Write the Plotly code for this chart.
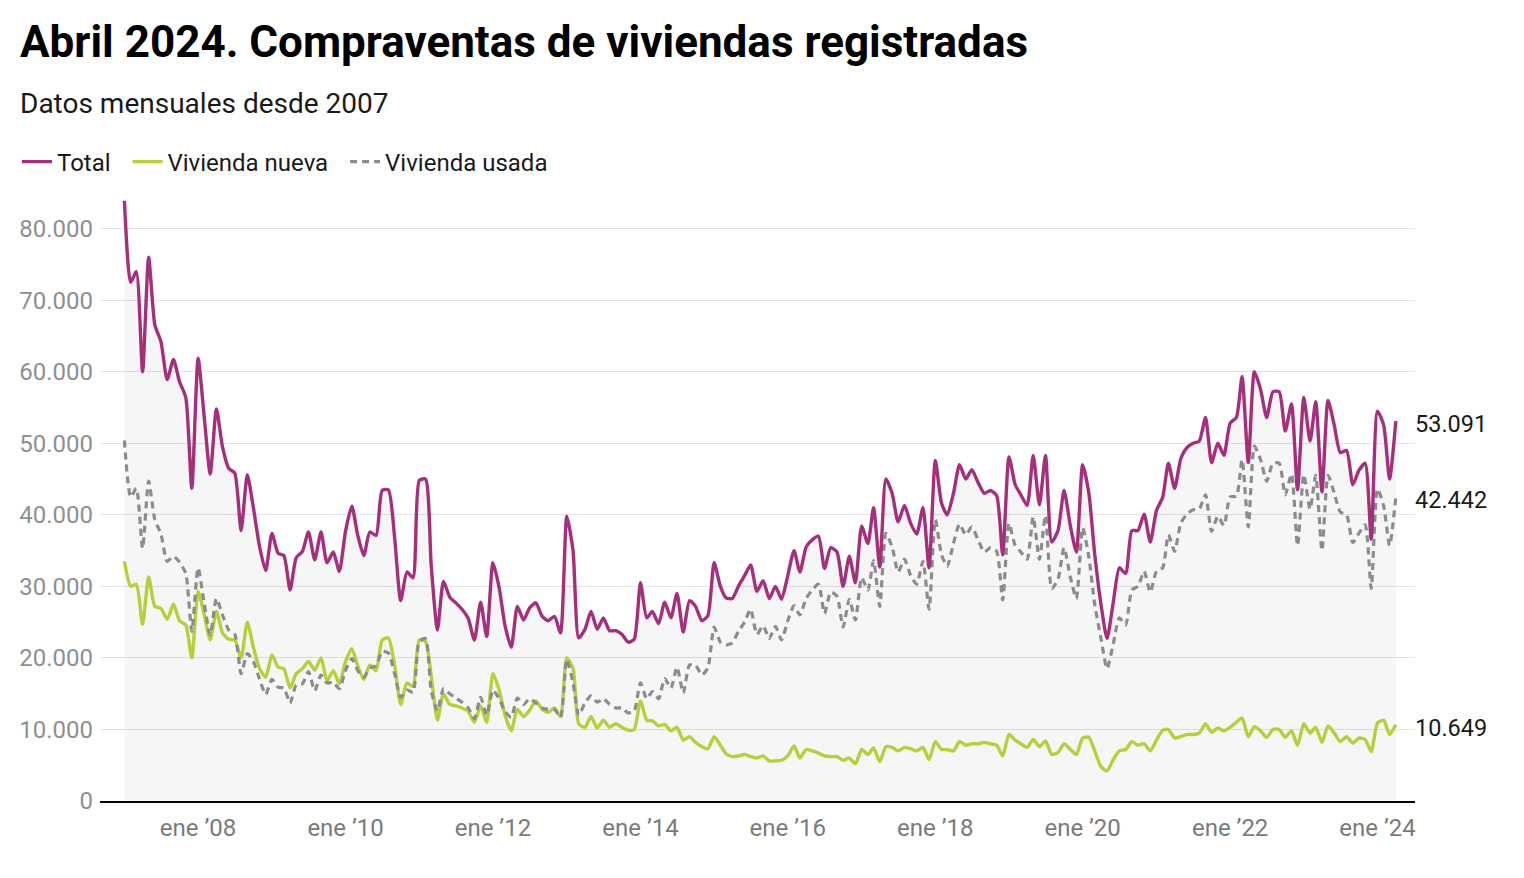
import pandas as pd
import plotly.graph_objects as go

# ---------------- data (monthly, Jan 2007 - Apr 2024) ----------------
total = [
    83900, 72500, 74000, 60000, 76000, 66500, 64200, 58900, 61700, 58600, 56400, 43700,  # 2007
    61900, 53500, 45700, 54800, 49500, 46500, 45800, 37800, 45600, 41000, 35500, 32200,  # 2008
    37400, 34600, 34300, 29500, 34000, 34900, 37600, 33700, 37600, 33300, 34800, 32100,  # 2009
    37800, 41200, 37300, 34300, 37600, 37100, 43400, 43500, 36800, 28000, 32000, 31200,  # 2010
    44800, 45000, 33000, 23900, 30700, 28500, 27700, 26800, 25500, 22500, 27800, 23000,  # 2011
    33300, 29800, 24500, 21500, 27200, 25300, 27000, 27700, 25800, 25200, 25800, 23500,  # 2012
    39800, 35000, 22800, 24000, 26500, 24000, 25600, 23800, 23800, 23300, 22200, 22600,  # 2013
    30500, 25600, 26500, 24800, 27800, 25600, 29000, 23600, 28000, 27200, 25200, 25900,  # 2014
    33300, 30000, 28400, 28300, 30000, 31500, 33000, 29300, 30800, 28300, 30000, 28200,  # 2015
    31500, 35000, 32000, 35500, 36500, 37000, 32500, 35400, 34800, 30000, 34200, 30500,  # 2016
    38400, 36000, 41000, 32700, 45000, 43000, 39000, 41300, 38800, 37300, 41000, 32600,  # 2017
    47600, 41600, 40000, 43000, 47000, 45000, 46300, 44500, 43000, 43400, 42700, 34400,  # 2018
    48100, 44200, 42800, 41300, 48300, 41400, 48300, 36200, 37800, 43400, 38500, 34800,  # 2019
    47000, 43000, 34500, 27500, 22700, 27800, 32600, 31800, 37800, 37800, 40100, 36200,  # 2020
    40600, 42500, 47200, 43700, 47800, 49400, 50000, 50300, 53600, 47300, 50000, 48300,  # 2021
    52800, 53600, 59300, 47300, 60000, 57500, 53600, 57200, 57200, 51700, 55500, 43500,  # 2022
    56400, 50300, 55800, 43200, 56000, 52500, 48700, 49000, 44200, 46200, 47200, 36600,  # 2023
    54500, 52500, 45000, 53091,                                                          # 2024
]

nueva = [
    33500, 30000, 30300, 24700, 31300, 27200, 26900, 25400, 27500, 25200, 24600, 20000,
    29300, 26000, 22500, 26500, 23500, 22600, 22500, 20000, 25000, 21500, 18500, 17300,
    20400, 18700, 18500, 15800, 17800, 18500, 19500, 18300, 20000, 16800, 18200, 16400,
    19500, 21300, 19000, 17000, 19000, 18200, 22500, 22800, 19000, 13500, 16500, 16000,
    22500, 22300, 17500, 11300, 15000, 13500, 13300, 13000, 12500, 11000, 13300, 11000,
    17800, 15500, 12000, 9800, 12800, 11800, 12700, 14000, 12800, 12400, 13000, 11800,
    20000, 18500, 10800, 10300, 11800, 10200, 11300, 10300, 10800, 10300, 9900, 10000,
    14000, 11300, 11200, 10500, 10700, 9800, 10300, 8500, 9000, 8200, 7600, 7300,
    9000, 7800, 6600, 6200, 6300, 6500, 6200, 6000, 6300, 5600, 5600, 5700,
    6300, 7700, 6000, 7200, 7000, 6700, 6300, 6200, 6200, 5700, 6000, 5200,
    7200, 6500, 7400, 5500, 7600, 7500, 7000, 7500, 7300, 7000, 7500, 5800,
    8300, 7200, 7200, 7000, 8300, 7800, 8000, 8000, 8200, 8000, 7800, 6300,
    9300, 8500, 8000, 7500, 8600, 7600, 8400, 6500, 6800, 8000, 7200, 6500,
    8800, 8900, 7000, 4800, 4200, 5800, 7000, 7200, 8300, 7800, 8000, 7000,
    8500, 9900, 10000, 8800, 9000, 9300, 9300, 9500, 10800, 9600, 10200, 9800,
    10300, 11000, 11600, 9000, 10400, 9800, 8900, 10000, 10000, 8900, 9800, 7800,
    10800, 9500, 10300, 8200, 10500, 9500, 8300, 9000, 8100, 8800, 8600, 6900,
    10900, 11300, 9300, 10649,
]

usada = [
    50400, 42500, 43700, 35300, 44700, 39300, 37300, 33500, 34200, 33400, 31800, 23700,
    32600, 27500, 23200, 28300, 26000, 23900, 23300, 17800, 20600, 19500, 17000, 14900,
    17000, 15900, 15800, 13700, 16200, 16400, 18100, 15400, 17600, 16500, 16600, 15700,
    18300, 19900, 18300, 17300, 18600, 18900, 20900, 20700, 17800, 14500, 15500, 15200,
    22300, 22700, 15500, 12600, 15700, 15000, 14400, 13800, 13000, 11500, 14500, 12000,
    15500, 14300, 12500, 11700, 14400, 13500, 14300, 13700, 13000, 12800, 12800, 11700,
    19800, 16500, 12000, 13700, 14700, 13800, 14300, 13500, 13000, 13000, 12300, 12600,
    16500, 14300, 15300, 14300, 17100, 15800, 18700, 15100, 19000, 19000, 17600, 18600,
    24300, 22200, 21800, 22100, 23700, 25000, 26800, 23300, 24500, 22700, 24400, 22500,
    25200, 27300, 26000, 28300, 29500, 30300, 26200, 29200, 28600, 24300, 28200, 25300,
    31200, 29500, 33600, 27200, 37400, 35500, 32000, 33800, 31500, 30300, 33500, 26800,
    39300, 34400, 32800, 36000, 38700, 37200, 38300, 36500, 34800, 35400, 34900, 28100,
    38800, 35700, 34800, 33800, 39700, 33800, 39900, 29700, 31000, 35400, 31300, 28300,
    38200, 34100, 27500, 22700, 18500, 22000, 25600, 24600, 29500, 30000, 32100, 29200,
    32100, 32600, 37200, 34900, 38800, 40100, 40700, 40800, 42800, 37700, 39800, 38500,
    42500, 42600, 47700, 38300, 49600, 47700, 44700, 47200, 47200, 42800, 45700, 35700,
    45600, 40800, 45500, 35000, 45500, 43000, 40400, 40000, 36100, 37400, 38600, 29700,
    43600, 41200, 35700, 42442,
]

series_names = ["Total", "Vivienda nueva", "Vivienda usada"]
tick_years = list(range(2008, 2025, 2))
tick_labels = ["ene \u2019" + str(y)[2:] for y in tick_years]
y_ticks = list(range(0, 80001, 10000))

fechas = pd.date_range("2007-01-01", periods=len(total), freq="MS")

# ---------------- styling ----------------
C_TOTAL = "#a4307c"
C_NUEVA = "#b6cf3a"
C_USADA = "#8c8c8c"
FONT = "Roboto"
PAD = "\u00a0\u00a0"  # extra spacing between legend entries

fig = go.Figure()

# light area under total
fig.add_trace(go.Scatter(
    x=fechas, y=total, mode="lines", line=dict(width=0, shape="spline", smoothing=0.6),
    fill="tozeroy", fillcolor="rgba(0,0,0,0.035)", showlegend=False, hoverinfo="skip"))

fig.add_trace(go.Scatter(
    x=fechas, y=nueva, mode="lines", name=series_names[1] + PAD, legendrank=2,
    line=dict(color=C_NUEVA, width=3.4, shape="spline", smoothing=0.6)))
fig.add_trace(go.Scatter(
    x=fechas, y=usada, mode="lines", name=series_names[2], legendrank=3,
    line=dict(color=C_USADA, width=3.2, dash="7px,5px", shape="spline", smoothing=0.6)))
fig.add_trace(go.Scatter(
    x=fechas, y=total, mode="lines", name=series_names[0] + PAD, legendrank=1,
    line=dict(color=C_TOTAL, width=3.4, shape="spline", smoothing=0.6)))

# end-value labels
def fmt(v):
    return f"{v:,}".replace(",", ".")

for serie in (total, usada, nueva):
    fig.add_annotation(x=1, xref="paper", y=serie[-1], yref="y", text=fmt(serie[-1]),
                       showarrow=False, xanchor="left", yanchor="middle", yshift=-3, xshift=-2,
                       font=dict(family=FONT, size=23.5, color="#1a1a1a"))

# subtitle
fig.add_annotation(x=-82 / 1315, xref="paper", y=(801 - 104) / 601, yref="paper",
                   text="Datos mensuales desde 2007", showarrow=False,
                   xanchor="left", yanchor="middle",
                   font=dict(family=FONT, size=28, color="#1a1a1a"))

fig.update_layout(
    width=1524, height=878,
    margin=dict(l=100, r=109, t=200, b=77),
    paper_bgcolor="white", plot_bgcolor="white",
    separators=",.",
    font=dict(family=FONT, color="#1a1a1a"),
    title=dict(text="<b>Abril 2024. Compraventas de viviendas registradas</b>",
               xref="container", yref="container", x=20 / 1524, y=1 - 42 / 878,
               xanchor="left", yanchor="middle",
               font=dict(family=FONT, size=44, color="#000000")),
    legend=dict(orientation="h", xref="container", yref="container",
                x=17 / 1524, y=1 - 162 / 878, xanchor="left", yanchor="middle",
                font=dict(family=FONT, size=24, color="#1a1a1a"),
                bgcolor="rgba(0,0,0,0)", traceorder="normal"),
    showlegend=True,
    hovermode=False,
)

fig.update_xaxes(
    range=["2006-09-02", "2024-07-05"],
    tickvals=[pd.Timestamp(f"{y}-01-01") for y in tick_years], ticktext=tick_labels,
    showgrid=False, zeroline=False, showline=True, linecolor="#000000", linewidth=2,
    ticks="", ticklabelstandoff=4, tickfont=dict(family=FONT, size=24, color="#7a7a7a"),
)
fig.update_yaxes(
    range=[0, 84000], tickvals=y_ticks, tickformat=",d",
    showgrid=True, gridcolor="#e3e3e3", gridwidth=1, zeroline=False, showline=False,
    ticks="", ticklabelstandoff=6, tickfont=dict(family=FONT, size=24, color="#8f8f8f"),
)

fig.write_html("out.html")
